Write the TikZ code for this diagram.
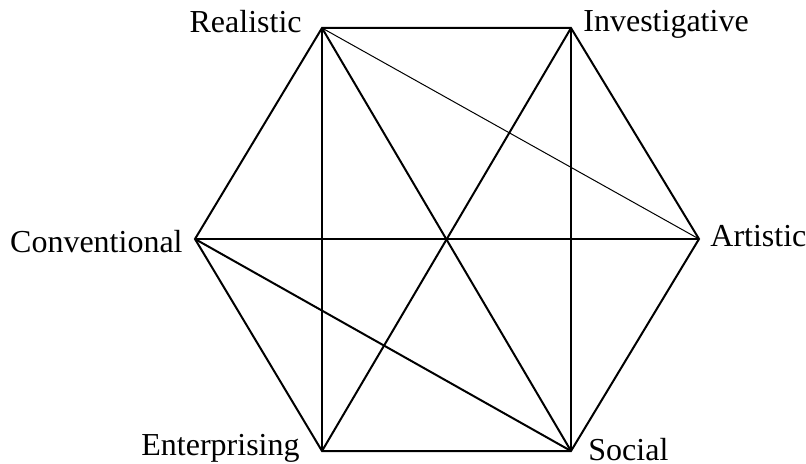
\documentclass[tikz,border=0pt]{standalone}
\usepackage{fontspec}
\setmainfont{Liberation Serif}
\begin{document}
\begin{tikzpicture}[x=0.5pt, y=-0.5pt,
  every node/.style={font=\fontsize{16}{19}\selectfont, inner sep=0pt},
  edge/.style={line width=1pt, line join=miter},
  thinedge/.style={line width=0.5pt}]
\useasboundingbox (0,0) rectangle (806,464);

% Corners of the hexagon
\coordinate (R) at (322,28);
\coordinate (I) at (571,28);
\coordinate (A) at (699,239);
\coordinate (S) at (571,451);
\coordinate (E) at (322,451);
\coordinate (C) at (195,239);

% Type names
\node[anchor=base east] (realLab) at (302,33) {Realistic};
\node[anchor=base west] (invLab) at (583,32) {Investigative};
\node[anchor=base west] (artLab) at (710,247) {Artistic};
\node[anchor=base west] (socLab) at (588,460) {Social};
\node[anchor=base east] (entLab) at (300,455) {Enterprising};
\node[anchor=base east] (conLab) at (183,252) {Conventional};

% Hexagon
\draw[edge] (R) -- (I) -- (A) -- (S) -- (E) -- (C) -- cycle;

% Diagonals
\draw[edge] (R) -- (E);
\draw[edge] (I) -- (S);
\draw[edge] (R) -- (S);
\draw[edge] (I) -- (E);
\draw[edge] (C) -- (A);
\draw[edge] (C) -- (S);
\draw[thinedge] (R) -- (A);

\end{tikzpicture}
\end{document}
